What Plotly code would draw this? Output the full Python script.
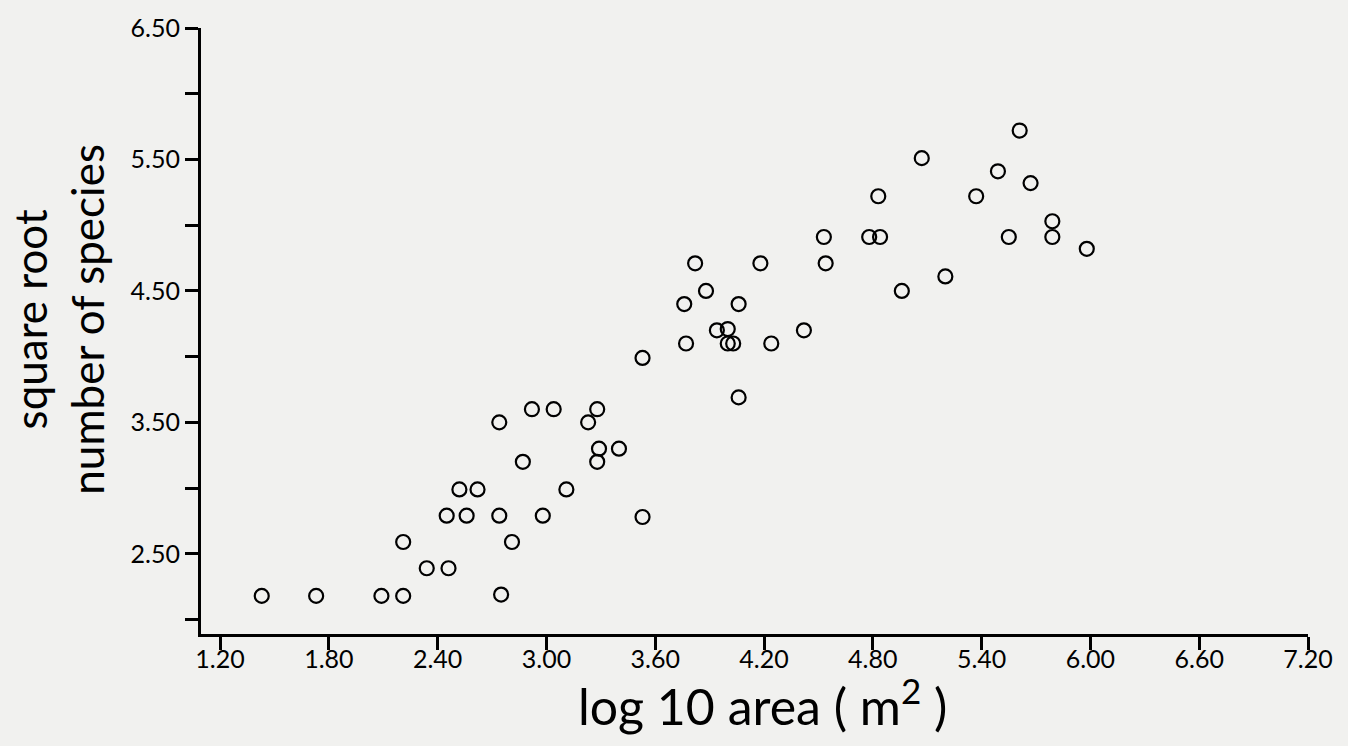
import plotly.graph_objects as go

# log10 of area (m^2) and square root of species count
log_area = [1.43, 1.73, 2.09, 2.21, 2.75, 2.34, 2.46, 2.21, 2.81, 2.45,
            2.56, 2.74, 2.98, 3.53, 2.52, 2.62, 3.11, 2.87, 3.28, 3.29,
            3.40, 2.74, 2.92, 3.04, 3.23, 3.28, 4.06, 3.53, 3.77, 4.00,
            4.03, 4.24, 3.94, 4.00, 4.42, 3.76, 4.06, 3.88, 4.96, 5.20,
            3.82, 4.18, 4.54, 4.53, 4.78, 4.84, 5.55, 5.79, 5.79, 5.98,
            4.83, 5.37, 5.67, 5.49, 5.07, 5.61]
sqrt_species = [2.18, 2.18, 2.18, 2.18, 2.19, 2.39, 2.39, 2.59, 2.59, 2.79,
                2.79, 2.79, 2.79, 2.78, 2.99, 2.99, 2.99, 3.20, 3.20, 3.30,
                3.30, 3.50, 3.60, 3.60, 3.50, 3.60, 3.69, 3.99, 4.10, 4.10,
                4.10, 4.10, 4.20, 4.21, 4.20, 4.40, 4.40, 4.50, 4.50, 4.61,
                4.71, 4.71, 4.71, 4.91, 4.91, 4.91, 4.91, 4.91, 5.03, 4.82,
                5.22, 5.22, 5.32, 5.41, 5.51, 5.72]

x_ticks = [1.2, 1.8, 2.4, 3.0, 3.6, 4.2, 4.8, 5.4, 6.0, 6.6, 7.2]
x_labels = ['1.20', '1.80', '2.40', '3.00', '3.60', '4.20', '4.80',
            '5.40', '6.00', '6.60', '7.20']
y_ticks = [2.5, 3.5, 4.5, 5.5, 6.5]
y_labels = ['2.50', '3.50', '4.50', '5.50', '6.50']
y_minor = [2.0, 3.0, 4.0, 5.0, 6.0]

FONT = 'Lato'
BG = '#f1f1ef'
tick_style = dict(ticks='outside', ticklen=13, tickwidth=2.5, tickcolor='black')

fig = go.Figure(go.Scatter(
    x=log_area, y=sqrt_species,
    mode='markers',
    marker=dict(symbol='circle-open', size=14, color='black',
                line=dict(color='black', width=2.2)),
    hoverinfo='x+y'
))

fig.update_xaxes(
    range=[1.095, 7.2],
    tickvals=x_ticks, ticktext=x_labels,
    showline=True, linecolor='black', linewidth=3,
    showgrid=False, zeroline=False,
    ticklabelstandoff=-12, ticklabeloverflow='allow',
    tickfont=dict(family=FONT, size=25, color='black'),
    **tick_style
)
fig.update_yaxes(
    range=[1.89, 6.5],
    tickvals=y_ticks, ticktext=y_labels,
    minor=dict(tickvals=y_minor, showgrid=False, **tick_style),
    showline=True, linecolor='black', linewidth=3,
    showgrid=False, zeroline=False,
    ticklabeloverflow='allow',
    tickfont=dict(family=FONT, size=25, color='black'),
    **tick_style
)

fig.add_annotation(
    text='log 10 area ( m<sup>2</sup> )',
    xref='paper', yref='paper', x=0.507, y=-0.113,
    xanchor='center', yanchor='middle', showarrow=False, borderpad=0,
    font=dict(family=FONT, size=50, color='black')
)
fig.add_annotation(
    text='square root<br>number of species',
    xref='paper', yref='paper', x=-0.129, y=0.519,
    xanchor='center', yanchor='middle', showarrow=False, textangle=-90,
    borderpad=0,
    font=dict(family=FONT, size=44, color='black')
)

fig.update_layout(
    width=1348, height=746, autosize=False,
    margin=dict(l=201, r=40, t=15, b=112),
    paper_bgcolor=BG, plot_bgcolor=BG,
    showlegend=False
)

# page flush with the window
fig.write_html('out.html', config={'displayModeBar': False}, post_script=(
    "document.body.style.margin='0';"
    "document.body.style.background='" + BG + "';"
))
